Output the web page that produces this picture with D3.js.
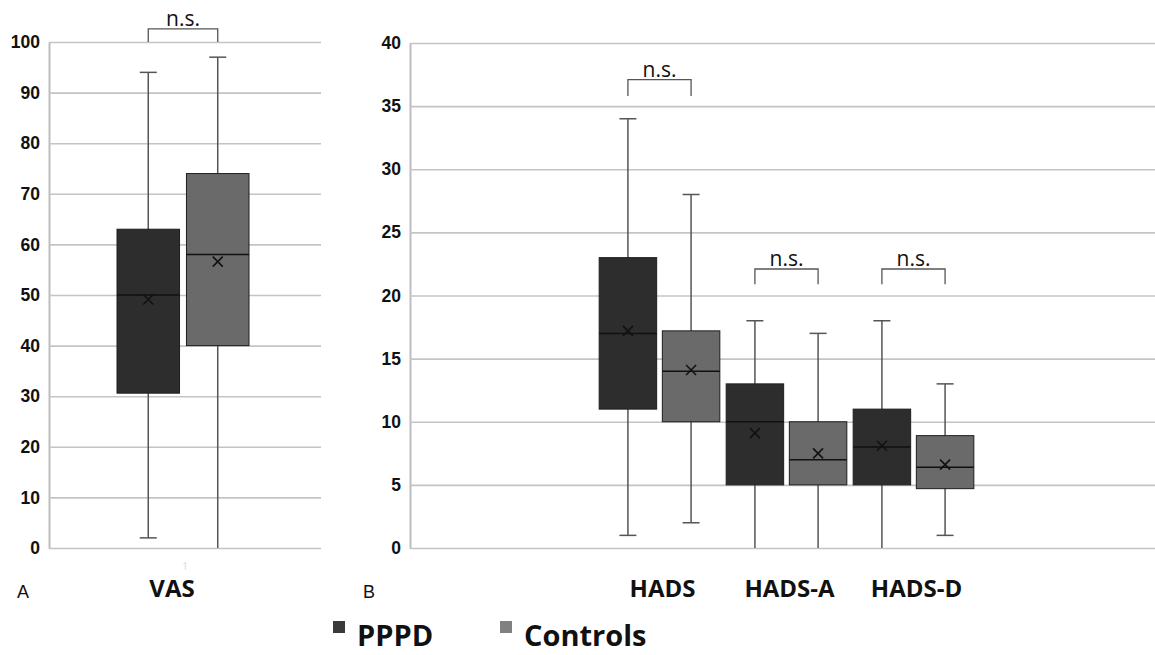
<!DOCTYPE html>
<html>
<head>
<meta charset="utf-8">
<title>PPPD vs Controls box plots</title>
<script src="https://d3js.org/d3.v7.min.js"></script>
<style>
    body { margin: 0; background: #fff; }
    svg { font-family: "Open Sans", sans-serif; }
    .axis path.domain { stroke: #bdbdbd; stroke-width: 2px; }
    .axis .tick line { stroke: #c4c4c4; stroke-width: 1.6px; }
    .axis .tick text { font-size: 17.5px; font-weight: 700; fill: #111; }
    .whisker { stroke: #555; stroke-width: 1.5px; }
    .box { stroke: #1e1e1e; stroke-width: 1px; }
    .median { stroke: #111; stroke-width: 1.5px; }
    .mean { stroke: #111; stroke-width: 1.6px; }
    .bracket { fill: none; stroke: #555; stroke-width: 1.3px; }
    .ns { font-size: 21px; fill: #111; }
    .cat { font-size: 24px; font-weight: 700; fill: #111; }
    .panel { font-family: "Liberation Sans", Arial, sans-serif; font-size: 18px; fill: #111; }
    .legend text { font-size: 29px; font-weight: 700; fill: #111; }
</style>
</head>
<body>
<script>
// categories: VAS goes to panel A, the HADS scores to panel B
const categoriesA = ["VAS"];
const categoriesB = ["HADS", "HADS-A", "HADS-D"];
const groups = ["PPPD", "Controls"];

// box statistics, in order VAS, HADS, HADS-A, HADS-D
const pppdMin    = [2, 1, 0, 0];
const pppdQ1     = [30.6, 11, 5, 5];
const pppdMedian = [50, 17, 10, 8];
const pppdQ3     = [63, 23, 13, 11];
const pppdMax    = [94, 34, 18, 18];
const pppdMean   = [49.1, 17.2, 9.1, 8.1];

const ctrlMin    = [0, 2, 0, 1];
const ctrlQ1     = [40, 10, 5, 4.7];
const ctrlMedian = [58, 14, 7, 6.4];
const ctrlQ3     = [74, 17.2, 10, 8.9];
const ctrlMax    = [97, 28, 17, 13];
const ctrlMean   = [56.6, 14.1, 7.5, 6.6];

// y axis tick labels
const ticksA = [0, 10, 20, 30, 40, 50, 60, 70, 80, 90, 100];
const ticksB = [0, 5, 10, 15, 20, 25, 30, 35, 40];

// "n.s." brackets (bottom / top of the bracket in data units)
const nsCats   = ["VAS", "HADS", "HADS-A", "HADS-D"];
const nsBottom = [100, 35.8, 20.9, 20.9];
const nsTop    = [102.6, 37.1, 22.1, 22.1];

const allCats = categoriesA.concat(categoriesB);
const data = allCats.map((c, i) => ({
    cat: c,
    groups: [
        { g: "PPPD", min: pppdMin[i], q1: pppdQ1[i], med: pppdMedian[i], q3: pppdQ3[i], max: pppdMax[i], mean: pppdMean[i] },
        { g: "Controls", min: ctrlMin[i], q1: ctrlQ1[i], med: ctrlMedian[i], q3: ctrlQ3[i], max: ctrlMax[i], mean: ctrlMean[i] }
    ]
}));

const width = 1155, height = 655;
const color = d3.scaleOrdinal().domain(groups).range(["#2d2d2d", "#6a6a6a"]);
const legendColor = d3.scaleOrdinal().domain(groups).range(["#3a3a3a", "#808080"]);

const svg = d3.select("body").append("svg")
    .attr("width", width)
    .attr("height", height);

// panel layouts
const panels = [
    {
        cats: categoriesA, ticks: ticksA, domain: [0, 100],
        axisX: 49, right: 321, top: 42, bottom: 548,
        band: [117, 249], pad: 0, subPad: 0.1, label: "A", labelX: 17
    },
    {
        cats: categoriesB, ticks: ticksB, domain: [0, 40],
        axisX: 410, right: 1160, top: 43, bottom: 548,
        band: [596, 977], pad: 0.05, subPad: 0.09, label: "B", labelX: 363
    }
];

panels.forEach(p => {
    const y = d3.scaleLinear().domain(p.domain).range([p.bottom, p.top]);
    const x = d3.scaleBand().domain(p.cats).range(p.band)
        .paddingInner(p.pad).paddingOuter(p.pad / 2);
    const xs = d3.scaleBand().domain(groups).range([0, x.bandwidth()]).paddingInner(p.subPad);
    p.y = y; p.x = x; p.xs = xs;

    // axis + gridlines
    const axis = d3.axisLeft(y).tickValues(p.ticks)
        .tickSize(-(p.right - p.axisX)).tickSizeOuter(0).tickPadding(9);
    svg.append("g")
        .attr("class", "axis")
        .attr("transform", "translate(" + p.axisX + ",0)")
        .call(axis);

    const g = svg.append("g");
    const pd = data.filter(d => p.cats.includes(d.cat));
    const cat = g.selectAll(".cat-g").data(pd).join("g")
        .attr("transform", d => "translate(" + x(d.cat) + ",0)");

    const box = cat.selectAll(".bx").data(d => d.groups).join("g")
        .attr("transform", d => "translate(" + xs(d.g) + ",0)");
    const bw = xs.bandwidth();
    const cap = 17;

    // whiskers
    box.append("line").attr("class", "whisker")
        .attr("x1", bw / 2).attr("x2", bw / 2)
        .attr("y1", d => y(d.min)).attr("y2", d => y(d.max));
    box.append("line").attr("class", "whisker")
        .attr("x1", bw / 2 - cap / 2).attr("x2", bw / 2 + cap / 2)
        .attr("y1", d => y(d.max)).attr("y2", d => y(d.max));
    box.filter(d => d.min > 0).append("line").attr("class", "whisker")
        .attr("x1", bw / 2 - cap / 2).attr("x2", bw / 2 + cap / 2)
        .attr("y1", d => y(d.min)).attr("y2", d => y(d.min));

    // box
    box.append("rect").attr("class", "box")
        .attr("x", 0).attr("width", bw)
        .attr("y", d => y(d.q3)).attr("height", d => y(d.q1) - y(d.q3))
        .attr("fill", d => color(d.g));
    box.append("line").attr("class", "median")
        .attr("x1", 0).attr("x2", bw)
        .attr("y1", d => y(d.med)).attr("y2", d => y(d.med));

    // mean cross
    const m = 5;
    box.append("path").attr("class", "mean")
        .attr("d", d => {
            const cx = bw / 2, cy = y(d.mean);
            return "M" + (cx - m) + "," + (cy - m) + "L" + (cx + m) + "," + (cy + m) +
                "M" + (cx - m) + "," + (cy + m) + "L" + (cx + m) + "," + (cy - m);
        });

    // panel letter
    svg.append("text").attr("class", "panel")
        .attr("x", p.labelX).attr("y", 598).text(p.label);
});

const pA = panels[0], pB = panels[1];

// faint excel category label "1" and the VAS label
svg.append("text")
    .attr("x", pA.x("VAS") + pA.x.bandwidth() / 2 + 2).attr("y", 570)
    .attr("text-anchor", "middle").attr("font-size", 10).attr("fill", "#d8d8d8")
    .text("1");
svg.append("text").attr("class", "cat")
    .attr("x", pA.x("VAS") + pA.x.bandwidth() / 2 - 11).attr("y", 597)
    .attr("text-anchor", "middle").text("VAS");

svg.selectAll(".catB").data(categoriesB).join("text")
    .attr("class", "cat")
    .attr("x", d => pB.x(d) + pB.x.bandwidth() / 2 + 3).attr("y", 597)
    .attr("text-anchor", "middle").text(d => d);

// n.s. brackets
nsCats.forEach((c, i) => {
    const p = categoriesA.includes(c) ? pA : pB;
    const x0 = p.x(c) + p.xs("PPPD") + p.xs.bandwidth() / 2;
    const x1 = p.x(c) + p.xs("Controls") + p.xs.bandwidth() / 2;
    const yb = p.y(nsBottom[i]), yt = p.y(nsTop[i]);
    svg.append("path").attr("class", "bracket")
        .attr("d", "M" + x0 + "," + yb + "V" + yt + "H" + x1 + "V" + yb);
    svg.append("text").attr("class", "ns")
        .attr("x", (x0 + x1) / 2).attr("y", yt - 3)
        .attr("text-anchor", "middle").text("n.s.");
});

// legend
const legendX = [333, 500];
const legend = svg.append("g").attr("class", "legend");
groups.forEach((gname, i) => {
    legend.append("rect")
        .attr("x", legendX[i]).attr("y", 621)
        .attr("width", 12).attr("height", 12)
        .attr("fill", legendColor(gname));
    legend.append("text")
        .attr("x", legendX[i] + 24).attr("y", 646)
        .text(gname);
});
</script>
</body>
</html>
